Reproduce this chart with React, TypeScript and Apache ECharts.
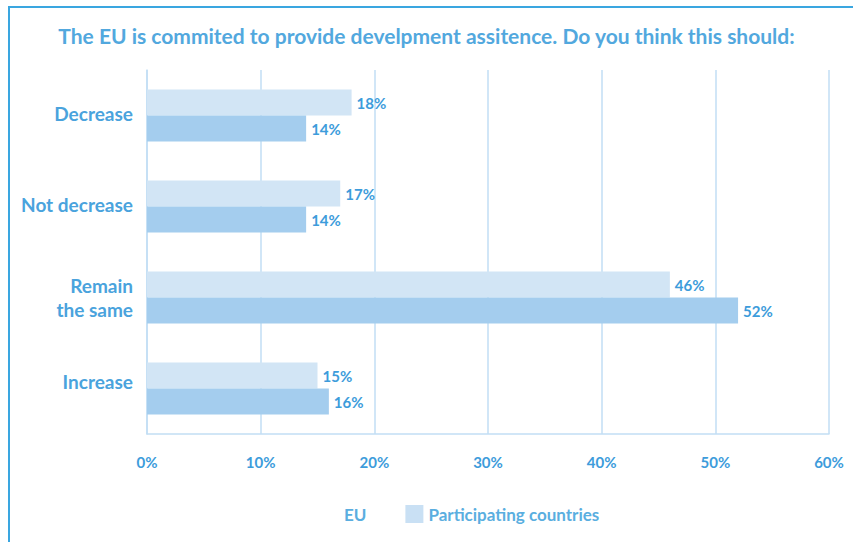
import React, { useEffect, useRef } from "react";
import * as echarts from "echarts";

const titleText = "The EU is commited to provide develpment assitence. Do you think this should:";
const categories = ["Decrease", "Not decrease", "Remain\nthe same", "Increase"];
const participating = [18, 17, 46, 15];
const eu = [14, 14, 52, 16];
const xTicks = [0, 10, 20, 30, 40, 50, 60];

const BLUE = "#3d9cdb";
const GRID = "#c2def4";
const FONT = "Lato";

export default function App() {
  const ref = useRef<HTMLDivElement>(null);
  useEffect(() => {
    if (!ref.current) return;
    const chart = echarts.init(ref.current, null, { renderer: "svg" });
    const label = {
      show: true,
      position: "right",
      distance: 5,
      formatter: "{c}%",
      color: BLUE,
      fontFamily: FONT,
      fontWeight: "bold",
      fontSize: 15,
    };
    const yLabelStyle = {
      color: "#4aa3dd",
      fontFamily: FONT,
      fontWeight: "bold",
      fontSize: 19,
      lineHeight: 24,
      align: "right",
    };
    chart.setOption({
      animation: false,
      backgroundColor: "#ffffff",
      textStyle: { fontFamily: FONT },
      title: {
        text: titleText,
        left: "center",
        top: 20,
        textStyle: { color: "#52a8de", fontFamily: FONT, fontWeight: "bold", fontSize: 21 },
      },
      legend: {
        left: 316,
        top: 500,
        itemWidth: 18,
        itemHeight: 18,
        itemGap: 39,
        icon: "rect",
        textStyle: { color: "#5aaee0", fontFamily: FONT, fontWeight: "bold", fontSize: 17 },
        data: [
          { name: "EU", itemStyle: { opacity: 0 } },
          { name: "Participating countries", itemStyle: { color: "#c9e0f4" } },
        ],
      },
      grid: { left: 147, right: 24, top: 70, bottom: 108, containLabel: false },
      xAxis: {
        type: "value",
        min: xTicks[0],
        max: xTicks[xTicks.length - 1],
        interval: 10,
        axisLine: { show: true, lineStyle: { color: GRID, width: 1.5 } },
        axisTick: { show: false },
        splitLine: { show: true, lineStyle: { color: GRID, width: 1.5 } },
        axisLabel: {
          formatter: "{value}%",
          color: BLUE,
          fontFamily: FONT,
          fontWeight: "bold",
          fontSize: 15,
          margin: 20,
        },
      },
      yAxis: {
        type: "category",
        data: categories,
        inverse: true,
        axisLine: { show: true, lineStyle: { color: GRID, width: 1.5 } },
        axisTick: { show: false },
        axisLabel: {
          ...yLabelStyle,
          margin: 14,
          formatter: (v: string) => {
            if (v === "Increase") return "{up|" + v + "}";
            if (v.indexOf("\n") >= 0) return "{m|" + v.split("\n").join("}\n{m|") + "}";
            return "{n|" + v + "}";
          },
          rich: {
            n: { ...yLabelStyle, padding: [0, 0, 4, 0] },
            m: { ...yLabelStyle, padding: [0, 0, 0, 0] },
            up: { ...yLabelStyle, padding: [0, 0, 14, 0] },
          },
        },
      },
      series: [
        {
          name: "Participating countries",
          type: "bar",
          data: participating,
          barWidth: 26,
          barGap: "0%",
          itemStyle: { color: "#d2e5f5" },
          label,
        },
        {
          name: "EU",
          type: "bar",
          data: eu,
          barWidth: 26,
          barGap: "0%",
          itemStyle: { color: "#a4cdee" },
          label,
        },
      ],
      graphic: [
        {
          type: "rect",
          shape: { x: 9, y: 7, width: 900, height: 600 },
          style: { fill: "none", stroke: "#3aa6e0", lineWidth: 2 },
          silent: true,
        },
      ],
    });
    return () => chart.dispose();
  }, []);
  return (
    <div
      ref={ref}
      style={{ position: "fixed", left: 0, top: 0, width: 853, height: 542 }}
    />
  );
}
